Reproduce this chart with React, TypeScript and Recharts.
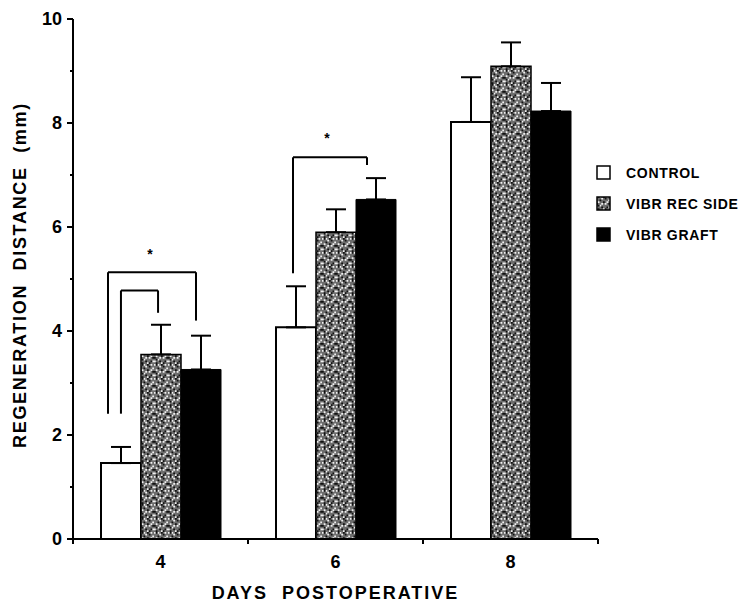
import {
  Bar,
  BarChart,
  ErrorBar,
  Legend,
  ReferenceDot,
  ReferenceLine,
  XAxis,
  YAxis,
} from "recharts";

const days = ["4", "6", "8"];
const controlMean = [1.46, 4.07, 8.02];
const controlErr = [0.31, 0.79, 0.86];
const recSideMean = [3.55, 5.9, 9.09];
const recSideErr = [0.57, 0.44, 0.46];
const graftMean = [3.26, 6.53, 8.23];
const graftErr = [0.65, 0.41, 0.54];
const yTicks = [0, 1, 2, 3, 4, 5, 6, 7, 8, 9, 10];
// band edges get tick marks, band centres get the day labels
const bandTicks = [0, 0.5, 1, 1.5, 2, 2.5, 3];

// significance brackets: x in band units (0..3 along the axis), y in mm
const brackets = [
  { x1: 0.274, x2: 0.486, left: 2.41, right: 4.35, top: 4.78 },
  { x1: 0.2, x2: 0.703, left: 2.41, right: 4.2, top: 5.13 },
  { x1: 1.257, x2: 1.68, left: 5.11, right: 7.19, top: 7.34 },
];
const stars = [
  { x: 0.44, y: 5.55 },
  { x: 1.451, y: 7.77 },
];

const legendItems = [
  { name: "CONTROL", fill: "#fff" },
  { name: "VIBR REC SIDE", fill: "url(#stipple)" },
  { name: "VIBR GRAFT", fill: "#000" },
];

const data = days.map((day, i) => ({
  day,
  slot: i + 0.5,
  control: controlMean[i],
  controlErr: [0, controlErr[i]],
  recSide: recSideMean[i],
  recSideErr: [0, recSideErr[i]],
  graft: graftMean[i],
  graftErr: [0, graftErr[i]],
}));

const FONT = "'Liberation Sans', Arial, Helvetica, sans-serif";

const lightDots = [
  [0, 0], [3, 1], [6, 0], [1, 3], [5, 4], [2, 5], [7, 6], [4, 7], [6, 3], [0, 6], [3, 4], [7, 2], [2, 0],
];
const darkDots = [
  [1, 0], [5, 1], [2, 2], [4, 3], [7, 4], [0, 4], [3, 6], [6, 6], [1, 7], [5, 7], [4, 0], [1, 5],
];

function StipplePattern() {
  return (
    <svg width={0} height={0} style={{ position: "absolute" }}>
      <defs>
        <pattern id="stipple" width={14} height={14} patternUnits="userSpaceOnUse">
          <g transform="scale(1.75)">
            <rect width={8} height={8} fill="#6e6e6e" />
            {lightDots.map(([x, y]) => (
              <rect key={`l${x}-${y}`} x={x} y={y} width={1} height={1} fill="#f0f0f0" />
            ))}
            {darkDots.map(([x, y]) => (
              <rect key={`d${x}-${y}`} x={x} y={y} width={1} height={1} fill="#111" />
            ))}
          </g>
        </pattern>
      </defs>
    </svg>
  );
}

function YTick(props: any) {
  const { x, y, payload } = props;
  const major = payload.value % 2 === 0;
  return (
    <g>
      <line x1={x - (major ? 6 : 3)} x2={x} y1={y} y2={y} stroke="#000" strokeWidth={2} />
      {major && (
        <text
          x={x - 11}
          y={y}
          dy="0.36em"
          textAnchor="end"
          fontFamily={FONT}
          fontWeight="bold"
          fontSize={18}
          fill="#000"
        >
          {payload.value}
        </text>
      )}
    </g>
  );
}

function XTick(props: any) {
  const { x, y, payload } = props;
  const v = payload.value;
  if (Number.isInteger(v)) {
    return <line x1={x} x2={x} y1={y} y2={y + 5} stroke="#000" strokeWidth={2} />;
  }
  return (
    <text
      x={x}
      y={y + 16}
      dy="0.71em"
      textAnchor="middle"
      fontFamily={FONT}
      fontWeight="bold"
      fontSize={18}
      fill="#000"
    >
      {days[Math.floor(v)]}
    </text>
  );
}

function LegendBox() {
  return (
    <div style={{ fontFamily: FONT, fontWeight: "bold", fontSize: 14, letterSpacing: 0.7 }}>
      {legendItems.map((item) => (
        <div key={item.name} style={{ display: "flex", alignItems: "center", height: 31 }}>
          <svg width={15} height={15}>
            <rect x={1} y={1} width={13} height={13} fill={item.fill} stroke="#000" strokeWidth={1.5} />
          </svg>
          <span style={{ marginLeft: 15, color: "#000" }}>{item.name}</span>
        </div>
      ))}
    </div>
  );
}

export default function App() {
  return (
    <div style={{ position: "absolute", left: 0, top: 0, background: "#fff" }}>
      <StipplePattern />
      <BarChart
        width={745}
        height={602}
        data={data}
        barCategoryGap={28}
        barGap={0}
        margin={{ top: 19, right: 147, bottom: 0, left: 0 }}
      >
        <XAxis xAxisId="cat" dataKey="day" hide />
        <XAxis
          xAxisId="band"
          dataKey="slot"
          type="number"
          domain={[0, 3]}
          ticks={bandTicks}
          interval={0}
          allowDataOverflow
          tick={<XTick />}
          tickLine={false}
          tickSize={0}
          tickMargin={0}
          height={63}
          axisLine={{ stroke: "#000", strokeWidth: 2 }}
          label={{
            value: "DAYS\u00a0\u00a0POSTOPERATIVE",
            position: "insideBottom",
            offset: 3,
            fill: "#000",
            fontSize: 18,
            fontWeight: "bold",
            fontFamily: FONT,
            letterSpacing: 2,
          }}
        />
        <YAxis
          domain={[0, 10]}
          ticks={yTicks}
          interval={0}
          width={73}
          tickSize={0}
          tickMargin={0}
          tickLine={false}
          axisLine={{ stroke: "#000", strokeWidth: 2 }}
          tick={<YTick />}
          label={{
            content: ({ viewBox }: any) => {
              const cx = 20;
              const cy = viewBox.y + viewBox.height / 2 - 4;
              return (
                <text
                  x={cx}
                  y={cy}
                  transform={`rotate(-90 ${cx} ${cy})`}
                  textAnchor="middle"
                  dominantBaseline="central"
                  fontFamily={FONT}
                  fontWeight="bold"
                  fontSize={18}
                  letterSpacing={1.7}
                  fill="#000"
                >
                  REGENERATION{"\u00a0\u00a0"}DISTANCE{"\u00a0\u00a0"}(mm)
                </text>
              );
            },
          }}
        />
        <Legend
          layout="vertical"
          align="center"
          verticalAlign="middle"
          content={() => <LegendBox />}
          wrapperStyle={{ left: 596, top: 157, width: 150 }}
        />
        <Bar xAxisId="cat" dataKey="control" fill="#fff" stroke="#000" strokeWidth={2} isAnimationActive={false}>
          <ErrorBar dataKey="controlErr" direction="y" width={10} stroke="#000" strokeWidth={2} isAnimationActive={false} />
        </Bar>
        <Bar xAxisId="cat" dataKey="recSide" fill="url(#stipple)" stroke="#000" strokeWidth={1.5} isAnimationActive={false}>
          <ErrorBar dataKey="recSideErr" direction="y" width={10} stroke="#000" strokeWidth={2} isAnimationActive={false} />
        </Bar>
        <Bar xAxisId="cat" dataKey="graft" fill="#000" stroke="#000" strokeWidth={1} isAnimationActive={false}>
          <ErrorBar dataKey="graftErr" direction="y" width={10} stroke="#000" strokeWidth={2} isAnimationActive={false} />
        </Bar>
        {brackets.flatMap((b, i) => [
          <ReferenceLine
            key={`bl${i}`}
            xAxisId="band"
            segment={[{ x: b.x1, y: b.left }, { x: b.x1, y: b.top }]}
            stroke="#000"
            strokeWidth={2}
            ifOverflow="visible"
          />,
          <ReferenceLine
            key={`bt${i}`}
            xAxisId="band"
            segment={[{ x: b.x1, y: b.top }, { x: b.x2, y: b.top }]}
            stroke="#000"
            strokeWidth={2}
            ifOverflow="visible"
          />,
          <ReferenceLine
            key={`br${i}`}
            xAxisId="band"
            segment={[{ x: b.x2, y: b.top }, { x: b.x2, y: b.right }]}
            stroke="#000"
            strokeWidth={2}
            ifOverflow="visible"
          />,
        ])}
        {stars.map((s, i) => (
          <ReferenceDot
            key={`s${i}`}
            xAxisId="band"
            x={s.x}
            y={s.y}
            r={0}
            ifOverflow="visible"
            shape={(p: any) => (
              <text
                x={p.cx}
                y={p.cy}
                dy="0.6em"
                textAnchor="middle"
                fontFamily={FONT}
                fontWeight="bold"
                fontSize={14}
                fill="#000"
              >
                *
              </text>
            )}
          />
        ))}
      </BarChart>
    </div>
  );
}
